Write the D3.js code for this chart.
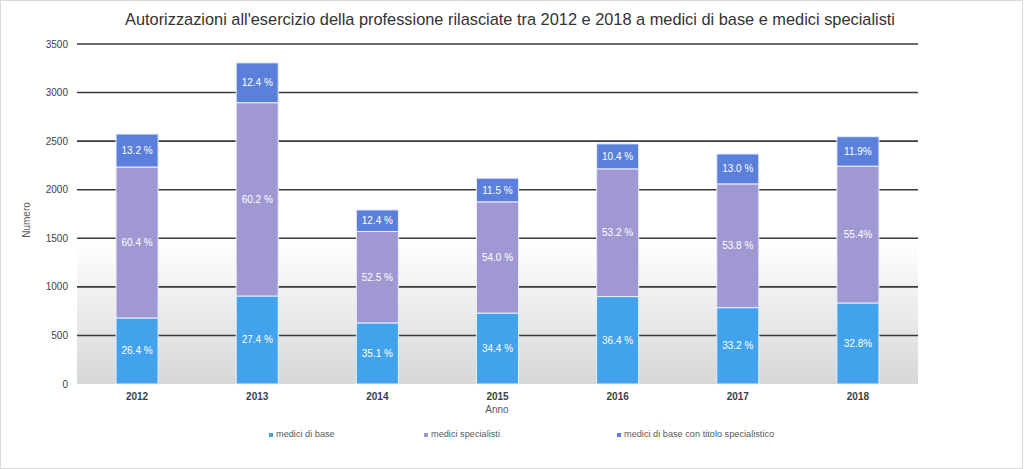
<!DOCTYPE html>
<html><head><meta charset="utf-8">
<script src="https://cdn.jsdelivr.net/npm/d3@7"></script>
<style>body{margin:0;background:#fff;}svg{display:block;font-family:"Liberation Sans",Arial,sans-serif;}</style>
</head><body><svg id="c" width="1024" height="469"></svg>
<script>
const years = ["2012","2013","2014","2015","2016","2017","2018"];
const seriesNames = ["medici di base","medici specialisti","medici di base con titolo specialistico"];
const base = [680, 906, 629, 730, 900, 786, 834];
const specialisti = [1554, 1990, 941, 1145, 1315, 1274, 1409];
const titolo = [339, 410, 222, 244, 257, 308, 303];
const labelsBase = ["26.4 %","27.4 %","35.1 %","34.4 %","36.4 %","33.2 %","32.8%"];
const labelsSpec = ["60.4 %","60.2 %","52.5 %","54.0 %","53.2 %","53.8 %","55.4%"];
const labelsTit = ["13.2 %","12.4 %","12.4 %","11.5 %","10.4 %","13.0 %","11.9%"];
const yTicks = [0,500,1000,1500,2000,2500,3000,3500];
const colors = ["#42a3ec","#a098d3","#5a80dc"];

const svg = d3.select("#c");
const L=77, R=918, T=44, B=384;
const x = d3.scaleBand().domain(years).range([L,R]).paddingInner(0.65).paddingOuter(0.325);
const y = d3.scaleLinear().domain([0,3500]).range([B,T]);

svg.append("rect").attr("x",0.5).attr("y",0.5).attr("width",1022).attr("height",468).attr("fill","#fff").attr("stroke","#d9d9d9");

const defs = svg.append("defs");
const g = defs.append("linearGradient").attr("id","bg").attr("x1",0).attr("y1",0).attr("x2",0).attr("y2",1);
g.append("stop").attr("offset","0.58").attr("stop-color","#ffffff");
g.append("stop").attr("offset","1").attr("stop-color","#d7d7d7");
svg.append("rect").attr("x",L).attr("y",T).attr("width",R-L).attr("height",B-T).attr("fill","url(#bg)");

// gridlines
svg.append("g").selectAll("line").data(yTicks.filter(d=>d>0)).join("line")
  .attr("x1",L).attr("x2",R).attr("y1",d=>y(d)).attr("y2",d=>y(d))
  .attr("stroke","#3a3a3a").attr("stroke-width",1.6);

// y tick labels
svg.append("g").selectAll("text").data(yTicks).join("text")
  .attr("x",68).attr("y",d=>y(d)+3.5).attr("text-anchor","end")
  .attr("font-size",10).attr("fill","#404040").text(d=>d);

// stack
const rows = years.map((yr,i)=>({year:yr, b:base[i], s:specialisti[i], t:titolo[i], i}));
const stack = d3.stack().keys(["b","s","t"])(rows);
const labelSets = [labelsBase, labelsSpec, labelsTit];
stack.forEach((layer,k)=>{
  const gg = svg.append("g");
  gg.selectAll("rect").data(layer).join("rect")
    .attr("x",d=>x(d.data.year)).attr("width",x.bandwidth())
    .attr("y",d=>y(d[1])).attr("height",d=>y(d[0])-y(d[1]))
    .attr("fill",colors[k]).attr("stroke","#e8eefc").attr("stroke-width",1);
  gg.selectAll("text").data(layer).join("text")
    .attr("x",d=>x(d.data.year)+x.bandwidth()/2)
    .attr("y",d=>(y(d[0])+y(d[1]))/2+3.5)
    .attr("text-anchor","middle").attr("font-size",10).attr("fill","#fff")
    .text(d=>labelSets[k][d.data.i]);
});

// x labels
svg.append("g").selectAll("text").data(years).join("text")
  .attr("x",d=>x(d)+x.bandwidth()/2).attr("y",400).attr("text-anchor","middle")
  .attr("font-size",10).attr("font-weight","bold").attr("fill","#404040").text(d=>d);

svg.append("text").attr("x",497).attr("y",413).attr("text-anchor","middle")
  .attr("font-size",10).attr("fill","#595959").text("Anno");
svg.append("text").attr("transform","translate(30,220) rotate(-90)").attr("text-anchor","middle")
  .attr("font-size",10).attr("fill","#595959").text("Numero");

svg.append("text").attr("x",510).attr("y",25).attr("text-anchor","middle")
  .attr("font-size",17).attr("fill","#333").attr("textLength",770).attr("lengthAdjust","spacingAndGlyphs")
  .text("Autorizzazioni all'esercizio della professione rilasciate tra 2012 e 2018 a medici di base e medici specialisti");

// legend
const legX = [269, 424, 617];
const lg = svg.append("g").selectAll("g").data(seriesNames).join("g")
  .attr("transform",(d,i)=>`translate(${legX[i]},437)`);
lg.append("rect").attr("x",0).attr("y",-4).attr("width",4).attr("height",4).attr("fill",(d,i)=>colors[i]);
lg.append("text").attr("x",7).attr("y",0).attr("font-size",9.2).attr("fill","#595959").text(d=>d);
</script></body></html>
